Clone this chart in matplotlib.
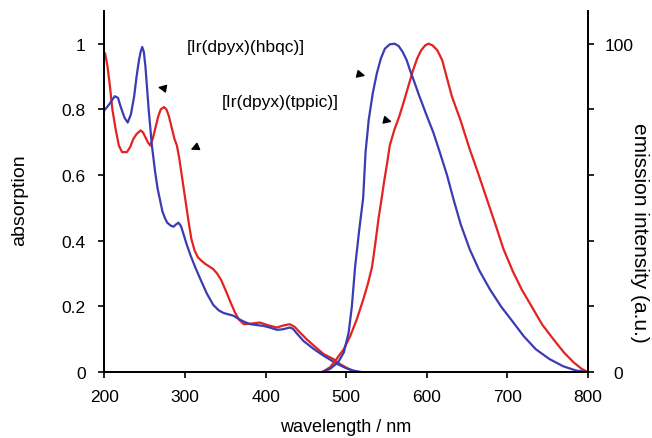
import matplotlib.pyplot as plt
from matplotlib.ticker import FixedLocator

plt.rcParams['font.family'] = ['Liberation Sans', 'DejaVu Sans']

# absorption, [Ir(dpyx)(hbqc)] (blue)
abs_hbqc_x = [201, 206, 210, 213, 217, 220, 225, 229, 233, 237, 240, 243, 245, 247, 249, 251, 255, 259,
              263, 266, 269, 272, 275, 278, 283, 286, 289, 292, 295, 297, 302, 307, 313, 319, 327, 335,
              342, 348, 354, 360, 366, 372, 381, 390, 397, 405, 414, 420, 424, 430, 434, 438, 447, 460,
              472, 480, 488, 500, 510, 520]
abs_hbqc_y = [0.80, 0.815, 0.83, 0.84, 0.835, 0.81, 0.775, 0.76, 0.785, 0.84, 0.9, 0.95, 0.975, 0.99,
              0.975, 0.93, 0.8, 0.69, 0.61, 0.56, 0.525, 0.49, 0.47, 0.455, 0.445, 0.443, 0.45, 0.455,
              0.445, 0.43, 0.39, 0.355, 0.318, 0.284, 0.24, 0.205, 0.188, 0.18, 0.176, 0.172, 0.163,
              0.155, 0.146, 0.143, 0.141, 0.136, 0.129, 0.13, 0.132, 0.136, 0.132, 0.12, 0.095, 0.07,
              0.05, 0.038, 0.026, 0.012, 0.004, 0.0]

# absorption, [Ir(dpyx)(tppic)] (red)
abs_tppic_x = [201, 204, 207, 210, 214, 218, 222, 228, 232, 236, 240, 245, 248, 251, 254, 257, 260, 264,
               267, 270, 274, 277, 280, 284, 287, 290, 293, 296, 299, 302, 305, 308, 312, 316, 320, 325,
               330, 335, 340, 345, 348, 352, 357, 362, 367, 373, 383, 393, 404, 414, 422, 430, 436, 441,
               451, 462, 472, 484, 492, 500, 511]
abs_tppic_y = [0.97, 0.93, 0.87, 0.8, 0.74, 0.69, 0.67, 0.67, 0.685, 0.71, 0.725, 0.736, 0.73, 0.715,
               0.7, 0.69, 0.71, 0.75, 0.78, 0.8, 0.807, 0.8, 0.78, 0.74, 0.71, 0.69, 0.65, 0.6, 0.55,
               0.5, 0.45, 0.405, 0.37, 0.35, 0.34, 0.33, 0.322, 0.314, 0.3, 0.28, 0.263, 0.24, 0.21,
               0.182, 0.16, 0.146, 0.148, 0.151, 0.142, 0.136, 0.142, 0.146, 0.138, 0.125, 0.1, 0.076,
               0.055, 0.04, 0.025, 0.014, 0.0]

# emission, [Ir(dpyx)(hbqc)] (blue)
em_hbqc_x = [470, 480, 490, 497, 503, 507, 511, 516, 521, 524, 528, 533, 538, 543, 548, 554, 560, 565,
             570, 575, 579, 585, 590, 600, 608, 616, 625, 633, 642, 653, 665, 678, 692, 707, 720, 735,
             752, 769, 785, 800]
em_hbqc_y = [0, 1, 3, 6, 12, 20, 32, 43, 53, 67, 77, 85, 91, 95.5, 98.5, 99.8, 100, 99.3, 97.5, 95,
             92, 88, 84.5, 78, 73, 67, 60, 52.7, 45, 37.5, 31, 25.3, 20, 15.2, 11, 7, 4, 1.8, 0.5, 0]

# emission, [Ir(dpyx)(tppic)] (red)
em_tppic_x = [470, 480, 488, 497, 505, 513, 521, 527, 532, 536, 540, 544, 547, 551, 554, 560, 566, 571,
              577, 583, 588, 593, 598, 602, 607, 613, 619, 625, 631, 642, 653, 663, 674, 685, 695, 707,
              718, 730, 743, 757, 770, 782, 792, 800]
em_tppic_y = [0, 1.5, 4, 7, 11, 16, 22, 27, 32, 39, 46.6, 53, 58, 64, 69, 74, 78, 82, 87, 92, 95.5,
              98, 99.5, 100, 99.5, 98, 95, 89.5, 84, 76.5, 68, 61, 53, 45, 37.5, 30.5, 25, 20, 14.5,
              10, 6, 3, 1, 0]

blue = '#3b3bb3'
red = '#e2231f'

fig = plt.figure(figsize=(6.52, 4.39), dpi=100)
ax = fig.add_axes([0.16, 0.150, 0.742, 0.823])
ax2 = ax.twinx()

ax.plot(abs_tppic_x, abs_tppic_y, color=red, lw=1.6)
ax.plot(abs_hbqc_x, abs_hbqc_y, color=blue, lw=1.6)
ax2.plot(em_tppic_x, em_tppic_y, color=red, lw=1.6)
ax2.plot(em_hbqc_x, em_hbqc_y, color=blue, lw=1.6)

ax.set_xlim(200, 800)
ax.set_ylim(0, 1.1)
ax2.set_ylim(0, 110)
ax.set_xticks([200, 300, 400, 500, 600, 700, 800])
ax.set_yticks([0, 0.2, 0.4, 0.6, 0.8, 1.0])
ax.set_yticklabels(['0', '0.2', '0.4', '0.6', '0.8', '1'])
ax2.set_yticks([0, 100])
ax2.yaxis.set_minor_locator(FixedLocator([20, 40, 60, 80]))

for a in (ax, ax2):
    a.spines['top'].set_visible(False)
    for s in ('left', 'right', 'bottom'):
        a.spines[s].set_linewidth(1.3)
    a.tick_params(direction='out', labelsize=12.5, width=1.2, length=4)
    a.tick_params(which='minor', direction='out', width=1.2, length=4)
ax.tick_params(axis='y', pad=9.5)
ax.tick_params(axis='x', pad=8)
ax2.tick_params(axis='y', pad=18)
for lab in ax2.get_yticklabels():
    lab.set_horizontalalignment('center')

fig.text(346 / 652, 1 - 428 / 439, 'wavelength / nm', fontsize=13, ha='center', va='center')
fig.text(20 / 652, 1 - 200 / 439, 'absorption', fontsize=14, rotation=90, ha='center', va='center')
fig.text(640 / 652, 1 - 233 / 439, 'emission intensity (a.u.)', fontsize=15, rotation=270,
         ha='center', va='center')

ax.text(375, 0.99, '[Ir(dpyx)(hbqc)]', fontsize=12.5, ha='center', va='center')
ax.text(418, 0.823, '[Ir(dpyx)(tppic)]', fontsize=12.5, ha='center', va='center')

arrow = dict(arrowstyle='-|>', color='black', lw=1.0, mutation_scale=12)
ax.annotate('', xy=(263, 0.869), xytext=(279, 0.862), arrowprops=arrow)
ax.annotate('', xy=(304, 0.674), xytext=(319, 0.69), arrowprops=arrow)
ax.annotate('', xy=(527, 0.9), xytext=(511, 0.91), arrowprops=arrow)
ax.annotate('', xy=(560, 0.76), xytext=(544, 0.77), arrowprops=arrow)

fig.savefig('out.png', dpi=100)
